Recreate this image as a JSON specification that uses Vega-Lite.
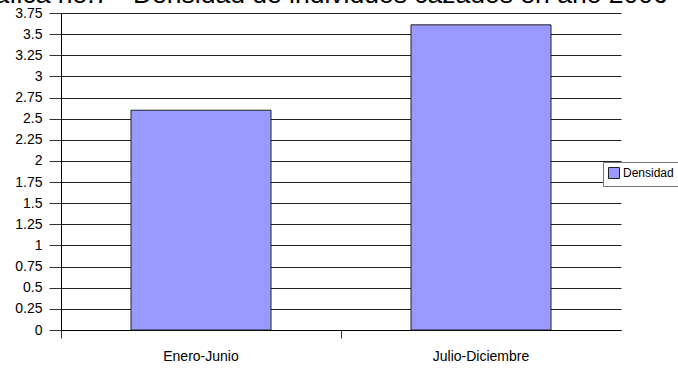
{
  "$schema": "https://vega.github.io/schema/vega-lite/v6.json",
  "width": 560,
  "height": 317,
  "autosize": {"type": "none"},
  "padding": {"left": 61, "top": 13, "right": 57, "bottom": 41},
  "background": "white",
  "config": {
    "font": "Liberation Sans",
    "view": {"stroke": null}
  },
  "title": {
    "text": "Gráfica no.7 - Densidad de individuos cazados en año 2006",
    "anchor": "start",
    "frame": "group",
    "orient": "top",
    "baseline": "alphabetic",
    "offset": 0,
    "dx": -96,
    "dy": 23,
    "fontSize": 26.5,
    "fontWeight": "normal",
    "color": "black"
  },
  "data": {
    "values": [
      {"periodo": "Enero-Junio", "densidad": 2.6},
      {"periodo": "Julio-Diciembre", "densidad": 3.61}
    ]
  },
  "mark": {"type": "bar", "stroke": "#222", "strokeWidth": 1, "width": {"band": 0.5}},
  "encoding": {
    "x": {
      "field": "periodo",
      "type": "nominal",
      "sort": null,
      "scale": {"paddingInner": 0, "paddingOuter": 0},
      "axis": {
        "title": null,
        "labelAngle": 0,
        "labelFontSize": 14,
        "labelColor": "black",
        "labelPadding": 11,
        "domainColor": "black",
        "tickColor": "#333",
        "tickSize": 8,
        "bandPosition": 0,
        "grid": false
      }
    },
    "y": {
      "field": "densidad",
      "type": "quantitative",
      "scale": {"domain": [0, 3.75], "nice": false},
      "axis": {
        "title": null,
        "values": [0, 0.25, 0.5, 0.75, 1, 1.25, 1.5, 1.75, 2, 2.25, 2.5, 2.75, 3, 3.25, 3.5, 3.75],
        "format": ".4~g",
        "labelFontSize": 14,
        "labelColor": "black",
        "labelPadding": 7,
        "tickSize": 12,
        "tickColor": "#333",
        "domainColor": "black",
        "grid": true,
        "gridColor": "#222",
        "gridOpacity": 1,
        "gridWidth": 1
      }
    },
    "color": {
      "datum": "Densidad",
      "scale": {"range": ["#9999ff"]},
      "legend": {
        "title": null,
        "orient": "none",
        "legendX": 542,
        "legendY": 149,
        "padding": 5,
        "fillColor": "white",
        "strokeColor": "#777",
        "symbolType": "square",
        "symbolSize": 121,
        "symbolStrokeColor": "#222",
        "symbolStrokeWidth": 1,
        "symbolOpacity": 1,
        "labelFontSize": 12,
        "labelColor": "black",
        "labelOffset": 3
      }
    }
  }
}
